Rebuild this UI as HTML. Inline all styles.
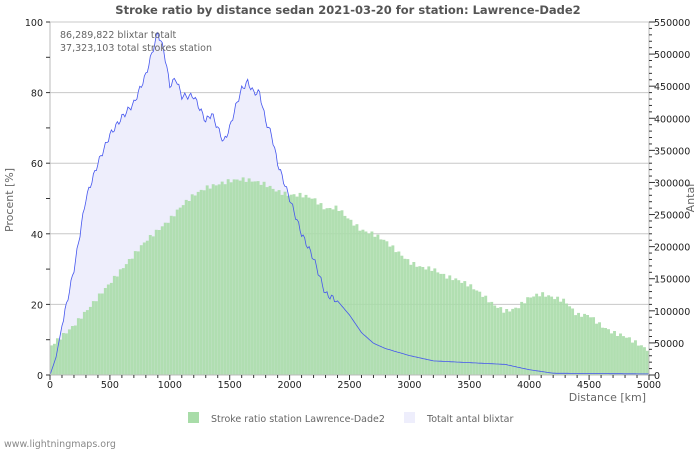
<!DOCTYPE html>
<html><head><meta charset="utf-8"><style>
body{margin:0;background:#fff;}
svg{display:block;font-family:"DejaVu Sans","Liberation Sans",sans-serif;}
</style></head><body>
<svg id="s" width="700" height="450" xmlns="http://www.w3.org/2000/svg">
<rect width="700" height="450" fill="#fff"/>
<text x="348" y="14" text-anchor="middle" font-size="11.5" font-weight="bold" fill="#555">Stroke ratio by distance sedan 2021-03-20 for station: Lawrence-Dade2</text>
<g id="grid"></g>
<g id="plot"></g>
<text x="60" y="38" font-size="9.5" fill="#666">86,289,822 blixtar totalt</text>
<text x="60" y="51" font-size="9.5" fill="#666">37,323,103 total strokes station</text>
<g id="axes"></g>
<text x="13" y="200" font-size="11" fill="#666" text-anchor="middle" transform="rotate(-90 13 200)">Procent   [%]</text>
<text x="694" y="198" font-size="11" fill="#666" text-anchor="middle" transform="rotate(-90 694 198)">Antal</text>
<text x="646" y="401" font-size="11" fill="#666" text-anchor="end">Distance   [km]</text>
<rect x="188" y="412" width="11" height="11" fill="#a8dca8"/>
<text x="211" y="422" font-size="9.5" fill="#666">Stroke ratio station Lawrence-Dade2</text>
<rect x="404" y="412" width="11" height="11" fill="#eeeefc"/>
<text x="427" y="422" font-size="9.5" fill="#666">Totalt antal blixtar</text>
<text x="4" y="447" font-size="9.5" fill="#888">www.lightningmaps.org</text>
</svg>
<script>
const NS="http://www.w3.org/2000/svg";
const X=k=>50+k*599/5000, Y=p=>375-p*3.53;
function el(t,a,p){const e=document.createElementNS(NS,t);for(const k in a)e.setAttribute(k,a[k]);document.getElementById(p).appendChild(e);return e;}
function interp(pts,k){for(let i=0;i<pts.length-1;i++){if(k>=pts[i][0]&&k<=pts[i+1][0]){const t=(k-pts[i][0])/(pts[i+1][0]-pts[i][0]);return pts[i][1]+t*(pts[i+1][1]-pts[i][1]);}}return pts[pts.length-1][1];}
const g=[[0,8],[100,11],[200,14],[300,18],[400,22],[500,26],[600,30],[700,34],[800,38],[900,41],[1000,44],[1100,48],[1200,51],[1300,53],[1400,54],[1500,55],[1600,55.5],[1700,55],[1800,54],[1900,52],[2000,51],[2100,51],[2200,50],[2300,47],[2400,47.5],[2500,44],[2600,41],[2700,40],[2800,38],[2900,35],[3000,32],[3100,30.5],[3200,30],[3300,28],[3400,27],[3500,25.5],[3600,23],[3700,20],[3800,18],[3900,19],[4000,22],[4100,23],[4200,22],[4300,21],[4400,17],[4500,17],[4600,14],[4700,12],[4800,11],[4900,9],[5000,7]];
const b=[[0,0],[50,5],[100,14],[200,30],[300,50],[400,60],[500,68],[600,73],[700,77],[800,85],[900,97],[950,92],[1000,82],[1050,84],[1100,79],[1200,79],[1300,72],[1350,74],[1400,70],[1450,66],[1500,70],[1550,76],[1600,81],[1650,83],[1700,80],[1750,80],[1800,72],[1850,68],[1900,60],[2000,50],[2100,40],[2200,33],[2300,23],[2400,21],[2500,17],[2600,12],[2700,9],[2800,7.5],[3000,5.5],[3200,4],[3500,3.5],[3800,3],[4000,1.5],[4200,0.5],[5000,0.3]];
for(let p=20;p<=100;p+=20) el('line',{x1:50,x2:649,y1:Y(p),y2:Y(p),stroke:'#c8c8c8','stroke-width':1},'grid');
let pts=[];for(let k=0;k<=5000;k+=12.5){let v=interp(b,k)+(k>100&&k<2400?Math.sin(k*0.37)*0.9:0);pts.push(X(k).toFixed(1)+','+Y(Math.max(0,v)).toFixed(1));}
el('polygon',{points:X(0)+','+Y(0)+' '+pts.join(' ')+' '+X(5000)+','+Y(0),fill:'#eeeefc'},'plot');
for(let k=0;k<5000;k+=25){let v=interp(g,k+12.5)+Math.sin(k*0.9)*0.6;el('rect',{x:X(k).toFixed(2),y:Y(v).toFixed(1),width:2.9,height:(v*3.53).toFixed(1),fill:'#a8dca8','fill-opacity':0.9},'plot');}
el('polyline',{points:pts.join(' '),fill:'none',stroke:'#4455ee','stroke-width':0.8},'plot');
el('line',{x1:50,x2:50,y1:22,y2:375,stroke:'#bbb'},'axes');
el('line',{x1:649,x2:649,y1:22,y2:375,stroke:'#bbb'},'axes');
el('line',{x1:50,x2:649,y1:375,y2:375,stroke:'#bbb'},'axes');
for(let p=0;p<=100;p+=10){el('line',{x1:46,x2:50,y1:Y(p),y2:Y(p),stroke:'#333'},'axes');if(p%20==0){const t=el('text',{x:43,y:Y(p)+4,'font-size':9.5,'text-anchor':'end',fill:'#222'},'axes');t.textContent=p;}}
for(let n=0;n<=550000;n+=10000){const y=375-n*353/550000;el('line',{x1:649,x2:n%50000==0?655:652,y1:y,y2:y,stroke:'#333'},'axes');if(n%50000==0){const t=el('text',{x:654,y:y+4,'font-size':9.5,fill:'#222'},'axes');t.textContent=n;}}
for(let k=0;k<=5000;k+=100){el('line',{x1:X(k),x2:X(k),y1:375,y2:k%500==0?380:378,stroke:'#333'},'axes');if(k%500==0){const t=el('text',{x:X(k),y:388,'font-size':9.5,'text-anchor':'middle',fill:'#222'},'axes');t.textContent=k;}}
</script>
</body></html>
